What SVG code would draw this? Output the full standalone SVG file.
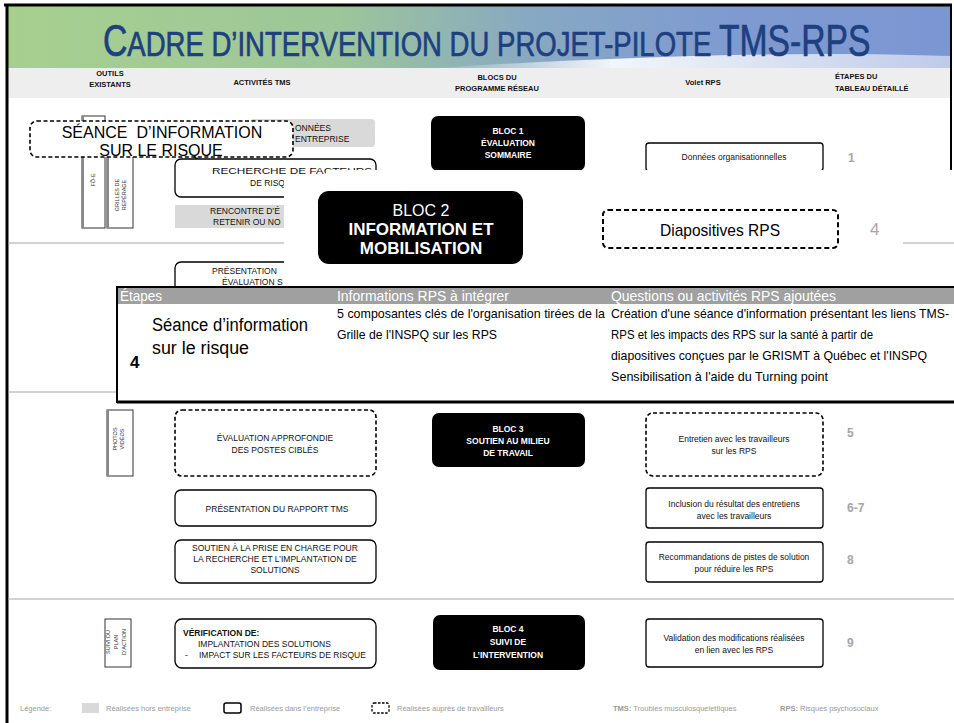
<svg xmlns="http://www.w3.org/2000/svg" width="954" height="723" viewBox="0 0 954 723">
<defs>
<linearGradient id="band" x1="0" y1="0" x2="1" y2="0">
<stop offset="0" stop-color="#a7d08f"/>
<stop offset="0.35" stop-color="#9dc69a"/>
<stop offset="0.55" stop-color="#88a9c2"/>
<stop offset="0.75" stop-color="#7f9bd0"/>
<stop offset="1" stop-color="#7c96d3"/>
</linearGradient>
<linearGradient id="swoosh" x1="0" y1="0" x2="1" y2="0">
<stop offset="0" stop-color="#fff" stop-opacity="0"/>
<stop offset="0.35" stop-color="#fff" stop-opacity="0.9"/>
<stop offset="1" stop-color="#fff" stop-opacity="0.5"/>
</linearGradient>
</defs>
<style>
text{font-family:"Liberation Sans",Arial,sans-serif}
.box{fill:#fff;stroke:#000;stroke-width:1.3}
.dash{fill:#fff;stroke:#000;stroke-width:1.6;stroke-dasharray:4 2.5}
.gray{fill:#d9d9d9}
.blk{fill:#000}
.sm{font-size:8.5px;fill:#111}
.bw{font-size:8.5px;font-weight:bold;fill:#fff}
.num{font-size:12px;font-weight:bold;fill:#a6a6a6}
.hdr{font-size:7.5px;font-weight:bold;fill:#111}
.vt{font-size:5.5px;fill:#333}
.vbox{fill:#fff;stroke:#333;stroke-width:1}
.sep{stroke:#a6a6a6;stroke-width:1}
.leg{font-size:7.5px;fill:#9a9a9a}
.tb{font-size:13.5px;fill:#000}
.th{font-size:14.5px;fill:#fff}
</style>

<!-- frame and title -->
<g id="title">
<rect x="6" y="6" width="945" height="62" fill="url(#band)"/>
<path d="M430 68 C600 58 780 50 951 56 L951 68 Z" fill="url(#swoosh)"/>
<rect x="6" y="68" width="945" height="30" fill="#eeeeee"/>
<g transform="translate(103,56) scale(0.765,1)">
<text x="0" y="0" fill="#203f7e" stroke="#203f7e" stroke-width="0.7"><tspan font-size="44">C</tspan><tspan font-size="36">ADRE D’INTERVENTION DU PROJET-PILOTE </tspan><tspan font-size="44">TMS-RPS</tspan></text>
</g>
<line x1="4" y1="5" x2="952" y2="5" stroke="#000" stroke-width="3"/>
<line x1="7" y1="4" x2="7" y2="723" stroke="#000" stroke-width="3"/>
<line x1="951" y1="4" x2="951" y2="176" stroke="#000" stroke-width="2"/>
</g>

<g id="headers">
<text x="110" y="76" text-anchor="middle" class="hdr">OUTILS</text>
<text x="110" y="87" text-anchor="middle" class="hdr">EXISTANTS</text>
<text x="262" y="85" text-anchor="middle" class="hdr">ACTIVITÉS TMS</text>
<text x="497" y="80" text-anchor="middle" class="hdr">BLOCS DU</text>
<text x="497" y="91" text-anchor="middle" class="hdr">PROGRAMME RÉSEAU</text>
<text x="703" y="85" text-anchor="middle" class="hdr">Volet RPS</text>
<text x="835" y="79" class="hdr">ÉTAPES DU</text>
<text x="835" y="91" class="hdr">TABLEAU DÉTAILLÉ</text>
</g>

<g id="separators">
<line class="sep" x1="8" y1="243" x2="284" y2="243"/>
<line class="sep" x1="8" y1="392" x2="117" y2="392"/>
<line class="sep" x1="8" y1="599" x2="954" y2="599"/>
</g>

<!-- row 1 underlying -->
<g id="donnees-entreprise">
<rect class="gray" x="250" y="119" width="125" height="28" rx="4"/>
<text class="sm" x="295" y="131">ONNÉES</text>
<text class="sm" x="295" y="142">ENTREPRISE</text>
</g>
<g id="outil-fiche">
<rect class="vbox" x="82" y="116" width="23" height="112"/>
<line x1="83" y1="116" x2="83" y2="228" stroke="#888" stroke-width="2"/>
<text class="vt" transform="translate(95,180) rotate(-90)" text-anchor="middle">FÔ-E</text>
</g>
<g id="outil-grilles">
<rect class="vbox" x="107" y="130" width="26" height="98"/>
<line x1="108" y1="130" x2="108" y2="228" stroke="#888" stroke-width="2"/>
<text class="vt" transform="translate(119,195) rotate(-90)" text-anchor="middle">GRILLES DE</text>
<text class="vt" transform="translate(126,195) rotate(-90)" text-anchor="middle">REPÉRAGE</text>
</g>
<g id="recherche">
<rect class="box" x="175" y="159" width="201" height="38" rx="6"/>
<text class="sm" x="212" y="174" textLength="160" lengthAdjust="spacingAndGlyphs">RECHERCHE DE FACTEURS</text>
<text class="sm" x="250" y="186">DE RISQ</text>
</g>
<g id="rencontre">
<rect class="gray" x="175" y="205" width="150" height="23"/>
<text class="sm" x="210" y="214">RENCONTRE D’É</text>
<text class="sm" x="213" y="225">RETENIR OU NO</text>
</g>
<g id="presentation-eval">
<rect class="box" x="175" y="262" width="201" height="40" rx="6"/>
<text class="sm" x="212" y="274">PRÉSENTATION</text>
<text class="sm" x="222" y="285">ÉVALUATION S</text>
</g>

<g id="seance-info">
<rect class="dash" x="30" y="121" width="263" height="36" rx="7"/>
<text x="162" y="138" font-size="16" text-anchor="middle" fill="#000">SÉANCE&#160; D’INFORMATION</text>
<text x="161" y="156" font-size="16" text-anchor="middle" fill="#000">SUR LE RISQUE</text>
</g>

<g id="bloc1">
<rect class="blk" x="431" y="116" width="154" height="55" rx="7"/>
<text class="bw" x="508" y="134" text-anchor="middle">BLOC 1</text>
<text class="bw" x="508" y="146" text-anchor="middle">ÉVALUATION</text>
<text class="bw" x="508" y="158" text-anchor="middle">SOMMAIRE</text>
</g>
<g id="donnees-org">
<rect class="box" x="646" y="143" width="177" height="28" rx="3"/>
<text class="sm" x="734" y="160" text-anchor="middle">Données organisationnelles</text>
<text class="num" x="848" y="162">1</text>
</g>

<!-- overlay -->
<polygon points="326,170 954,170 954,288 284,288 284,176 326,176" fill="#fff"/>

<g id="bloc2">
<rect class="blk" x="318" y="191" width="205" height="73" rx="11"/>
<text x="421" y="216" font-size="16" fill="#fff" text-anchor="middle">BLOC 2</text>
<text x="421" y="235" font-size="17" font-weight="bold" fill="#fff" text-anchor="middle">INFORMATION ET</text>
<text x="421" y="254" font-size="17" font-weight="bold" fill="#fff" text-anchor="middle">MOBILISATION</text>
</g>
<g id="diapositives">
<rect class="dash" x="603" y="210" width="235" height="38" rx="5" style="stroke-width:2;stroke-dasharray:5 3"/>
<text x="660" y="236" font-size="17" fill="#000" textLength="120" lengthAdjust="spacingAndGlyphs">Diapositives RPS</text>
<text x="870" y="235" font-size="17" fill="#a6a6a6">4</text>
<line class="sep" x1="903" y1="243" x2="954" y2="243"/>
</g>

<!-- table -->
<g id="table">
<rect x="117" y="287" width="837" height="115" fill="#fff"/>
<rect x="118" y="288" width="836" height="16" fill="#a0a0a0"/>
<line x1="116" y1="287" x2="954" y2="287" stroke="#000" stroke-width="2"/>
<line x1="117" y1="287" x2="117" y2="403" stroke="#000" stroke-width="2"/>
<line x1="117" y1="402" x2="954" y2="402" stroke="#000" stroke-width="3"/>
<text class="th" x="120" y="301" textLength="42" lengthAdjust="spacingAndGlyphs">Étapes</text>
<text class="th" x="337" y="301" textLength="172" lengthAdjust="spacingAndGlyphs">Informations RPS à intégrer</text>
<text class="th" x="611" y="301" textLength="225" lengthAdjust="spacingAndGlyphs">Questions ou activités RPS ajoutées</text>
<text x="152" y="331" font-size="18" fill="#000" textLength="156" lengthAdjust="spacingAndGlyphs">Séance d’information</text>
<text x="152" y="354" font-size="18" fill="#000" textLength="97" lengthAdjust="spacingAndGlyphs">sur le risque</text>
<text x="130" y="368" font-size="17" font-weight="bold" fill="#000">4</text>
<text class="tb" x="337" y="318" textLength="268" lengthAdjust="spacingAndGlyphs">5 composantes clés de l'organisation tirées de la</text>
<text class="tb" x="337" y="339" textLength="160" lengthAdjust="spacingAndGlyphs">Grille de l'INSPQ sur les RPS</text>
<text class="tb" x="611" y="318" textLength="338" lengthAdjust="spacingAndGlyphs">Création d'une séance d'information présentant les liens TMS-</text>
<text class="tb" x="611" y="339" textLength="262" lengthAdjust="spacingAndGlyphs">RPS et les impacts des RPS sur la santé à partir de</text>
<text class="tb" x="611" y="360" textLength="316" lengthAdjust="spacingAndGlyphs">diapositives conçues par le GRISMT à Québec et l'INSPQ</text>
<text class="tb" x="611" y="381" textLength="217" lengthAdjust="spacingAndGlyphs">Sensibilisation à l'aide du Turning point</text>
</g>

<!-- row 3 -->
<g id="outil-photos">
<rect class="vbox" x="107" y="410" width="26" height="66"/>
<line x1="108" y1="410" x2="108" y2="476" stroke="#888" stroke-width="2"/>
<text class="vt" transform="translate(117,439) rotate(-90)" text-anchor="middle">PHOTOS</text>
<text class="vt" transform="translate(124,439) rotate(-90)" text-anchor="middle">VIDÉOS</text>
</g>
<g id="eval-approfondie">
<rect class="dash" x="175" y="410" width="201" height="66" rx="7"/>
<text class="sm" x="275" y="441" text-anchor="middle">ÉVALUATION APPROFONDIE</text>
<text class="sm" x="275" y="453" text-anchor="middle">DES POSTES CIBLÉS</text>
</g>
<g id="bloc3">
<rect class="blk" x="432" y="413" width="153" height="54" rx="7"/>
<text class="bw" x="508" y="432" text-anchor="middle">BLOC 3</text>
<text class="bw" x="508" y="444" text-anchor="middle">SOUTIEN AU MILIEU</text>
<text class="bw" x="508" y="456" text-anchor="middle">DE TRAVAIL</text>
</g>
<g id="entretien">
<rect class="dash" x="646" y="413" width="177" height="63" rx="7"/>
<text class="sm" x="734" y="442" text-anchor="middle">Entretien avec les travailleurs</text>
<text class="sm" x="734" y="454" text-anchor="middle">sur les RPS</text>
<text class="num" x="847" y="437">5</text>
</g>
<g id="presentation-rapport">
<rect class="box" x="175" y="490" width="201" height="36" rx="6"/>
<text class="sm" x="277" y="512" text-anchor="middle">PRÉSENTATION DU RAPPORT TMS</text>
</g>
<g id="inclusion">
<rect class="box" x="646" y="488" width="177" height="40" rx="3"/>
<text class="sm" x="734" y="507" text-anchor="middle">Inclusion du résultat des entretiens</text>
<text class="sm" x="734" y="519" text-anchor="middle">avec les travailleurs</text>
<text class="num" x="847" y="512">6-7</text>
</g>
<g id="soutien-prise">
<rect class="box" x="175" y="540" width="201" height="43" rx="6"/>
<text class="sm" x="275" y="551" text-anchor="middle">SOUTIEN À LA PRISE EN CHARGE POUR</text>
<text class="sm" x="275" y="562" text-anchor="middle">LA RECHERCHE ET L’IMPLANTATION DE</text>
<text class="sm" x="275" y="573" text-anchor="middle">SOLUTIONS</text>
</g>
<g id="recommandations">
<rect class="box" x="646" y="542" width="177" height="40" rx="3"/>
<text class="sm" x="734" y="560" text-anchor="middle">Recommandations de pistes de solution</text>
<text class="sm" x="734" y="572" text-anchor="middle">pour réduire les RPS</text>
<text class="num" x="847" y="564">8</text>
</g>

<!-- row 4 -->
<g id="outil-suivi">
<rect class="vbox" x="105" y="619" width="26" height="48"/>
<text class="vt" transform="translate(110,642) rotate(-90)" text-anchor="middle">SUIVI DU</text>
<text class="vt" transform="translate(118,642) rotate(-90)" text-anchor="middle">PLAN</text>
<text class="vt" transform="translate(126,642) rotate(-90)" text-anchor="middle">D’ACTION</text>
</g>
<g id="verification">
<rect class="box" x="175" y="619" width="201" height="49" rx="7"/>
<text class="sm" x="183" y="636" font-weight="bold">VÉRIFICATION DE:</text>
<text class="sm" x="198" y="647">IMPLANTATION DES SOLUTIONS</text>
<text class="sm" x="185" y="658">-</text>
<text class="sm" x="199" y="658">IMPACT SUR LES FACTEURS DE RISQUE</text>
</g>
<g id="bloc4">
<rect class="blk" x="433" y="615" width="152" height="55" rx="7"/>
<text class="bw" x="508" y="632" text-anchor="middle">BLOC 4</text>
<text class="bw" x="508" y="645" text-anchor="middle">SUIVI DE</text>
<text class="bw" x="508" y="658" text-anchor="middle">L’INTERVENTION</text>
</g>
<g id="validation">
<rect class="box" x="646" y="619" width="177" height="48" rx="3"/>
<text class="sm" x="734" y="641" text-anchor="middle">Validation des modifications réalisées</text>
<text class="sm" x="734" y="653" text-anchor="middle">en lien avec les RPS</text>
<text class="num" x="847" y="647">9</text>
</g>

<!-- legend -->
<g id="legend">
<text class="leg" x="20" y="711">Légende:</text>
<rect class="gray" x="82" y="703" width="17" height="10"/>
<text class="leg" x="106" y="711">Réalisées hors entreprise</text>
<rect x="224" y="703" width="17" height="10" rx="2" fill="#fff" stroke="#000" stroke-width="1.5"/>
<text class="leg" x="250" y="711">Réalisées dans l’entreprise</text>
<rect x="372" y="703" width="17" height="10" rx="2" fill="#fff" stroke="#000" stroke-width="1.3" stroke-dasharray="2.5 1.5"/>
<text class="leg" x="397" y="711">Réalisées auprès de travailleurs</text>
<text class="leg" x="613" y="711"><tspan font-weight="bold">TMS:</tspan> Troubles musculosquelettiques</text>
<text class="leg" x="780" y="711"><tspan font-weight="bold">RPS:</tspan> Risques psychosociaux</text>
</g>
</svg>
